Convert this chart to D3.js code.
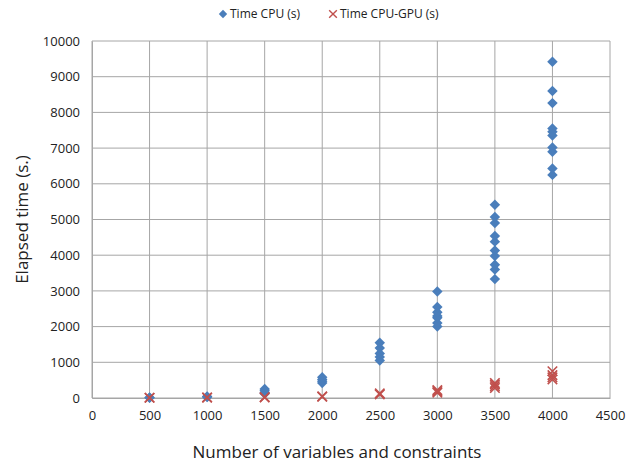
<!DOCTYPE html>
<html>
<head>
<meta charset="utf-8">
<script src="https://cdn.jsdelivr.net/npm/d3@7"></script>
<style>
  body { margin: 0; background: #fff; }
  text { font-family: "Open Sans", "Noto Sans", sans-serif; fill: #222; }
</style>
</head>
<body>
<div id="chart-container"></div>
<script>
// x categories (number of variables and constraints)
const sizes = [500, 1000, 1500, 2000, 2500, 3000, 3500, 4000]

// Time CPU (s), several runs per size
const cpuTimes = [
    [10, 15],
    [30, 40],
    [120, 150, 200, 250],
    [420, 470, 520, 580],
    [1050, 1150, 1250, 1400, 1550],
    [2000, 2100, 2250, 2300, 2400, 2550, 2980],
    [3330, 3600, 3730, 3980, 4130, 4380, 4540, 4900, 5070, 5410],
    [6250, 6430, 6900, 7020, 7350, 7460, 7550, 8260, 8600, 9420]
]

// Time CPU-GPU (s)
const gpuTimes = [
    [5, 8],
    [10, 15],
    [15, 25],
    [35, 45],
    [100, 130],
    [150, 190, 220],
    [280, 330, 380, 420],
    [520, 580, 640, 750]
]

const xTicks = d3.range(0, 4501, 500)
const yTicks = d3.range(0, 10001, 1000)

const width = 641, height = 465
const margin = { left: 92, right: 31, top: 41, bottom: 67 }

const svg = d3.select('#chart-container')
    .append('svg')
    .attr('width', width)
    .attr('height', height)

const x = d3.scaleLinear().domain([0, 4500]).range([margin.left, width - margin.right])
const y = d3.scaleLinear().domain([0, 10000]).range([height - margin.bottom, margin.top])

const blue = '#4a7ebb'
const red = '#c0504d'
const gridColor = '#a6a6a6'

// gridlines
svg.append('g')
    .selectAll('line')
    .data(yTicks)
    .enter()
    .append('line')
    .attr('x1', x(0)).attr('x2', x(4500))
    .attr('y1', d => y(d)).attr('y2', d => y(d))
    .attr('stroke', gridColor)
    .attr('stroke-width', 1)

svg.append('g')
    .selectAll('line')
    .data(xTicks)
    .enter()
    .append('line')
    .attr('x1', d => x(d)).attr('x2', d => x(d))
    .attr('y1', y(0)).attr('y2', y(10000))
    .attr('stroke', gridColor)
    .attr('stroke-width', 1)

// axes
const yAxis = svg.append('g')
    .attr('transform', 'translate(' + x(0) + ',0)')
    .call(d3.axisLeft(y).tickValues(yTicks).tickSize(0).tickPadding(12).tickFormat(d3.format('d')))
yAxis.select('.domain').attr('stroke', gridColor)
yAxis.selectAll('text').style('font-size', '13px')

const xAxis = svg.append('g')
    .attr('transform', 'translate(0,' + y(0) + ')')
    .call(d3.axisBottom(x).tickValues(xTicks).tickSize(0).tickPadding(13).tickFormat(d3.format('d')))
xAxis.select('.domain').attr('stroke', gridColor)
xAxis.selectAll('text').style('font-size', '13px')

// flatten series
const cpuPoints = []
const gpuPoints = []
sizes.forEach((s, i) => {
    cpuTimes[i].forEach(v => cpuPoints.push({ n: s, t: v }))
    gpuTimes[i].forEach(v => gpuPoints.push({ n: s, t: v }))
})

const diamond = d3.symbol().type(d3.symbolDiamond2).size(70)
const cross = d3.symbol().type(d3.symbolX).size(60)

svg.append('g')
    .selectAll('path')
    .data(cpuPoints)
    .enter()
    .append('path')
    .attr('d', diamond)
    .attr('transform', d => 'translate(' + x(d.n) + ',' + y(d.t) + ')')
    .attr('fill', blue)

svg.append('g')
    .selectAll('path')
    .data(gpuPoints)
    .enter()
    .append('path')
    .attr('d', cross)
    .attr('transform', d => 'translate(' + x(d.n) + ',' + y(d.t) + ')')
    .attr('fill', 'none')
    .attr('stroke', red)
    .attr('stroke-width', 1.6)

// legend
const legend = svg.append('g').attr('transform', 'translate(0,14)')
legend.append('path')
    .attr('d', d3.symbol().type(d3.symbolDiamond2).size(45))
    .attr('transform', 'translate(223,0)')
    .attr('fill', blue)
legend.append('text')
    .attr('x', 230).attr('y', 0)
    .attr('dy', '0.35em')
    .style('font-size', '12px')
    .text('Time CPU (s)')
legend.append('path')
    .attr('d', d3.symbol().type(d3.symbolX).size(40))
    .attr('transform', 'translate(333,0)')
    .attr('fill', 'none')
    .attr('stroke', red)
    .attr('stroke-width', 1.4)
legend.append('text')
    .attr('x', 340).attr('y', 0)
    .attr('dy', '0.35em')
    .style('font-size', '12px')
    .text('Time CPU-GPU (s)')

// axis titles
svg.append('text')
    .attr('transform', 'translate(22,' + (y(5000)) + ') rotate(-90)')
    .attr('text-anchor', 'middle')
    .attr('dy', '0.35em')
    .style('font-size', '17px')
    .text('Elapsed time (s.)')

svg.append('text')
    .attr('x', 337).attr('y', 452)
    .attr('text-anchor', 'middle')
    .attr('dy', '0.35em')
    .style('font-size', '17px')
    .text('Number of variables and constraints')
</script>
</body>
</html>
